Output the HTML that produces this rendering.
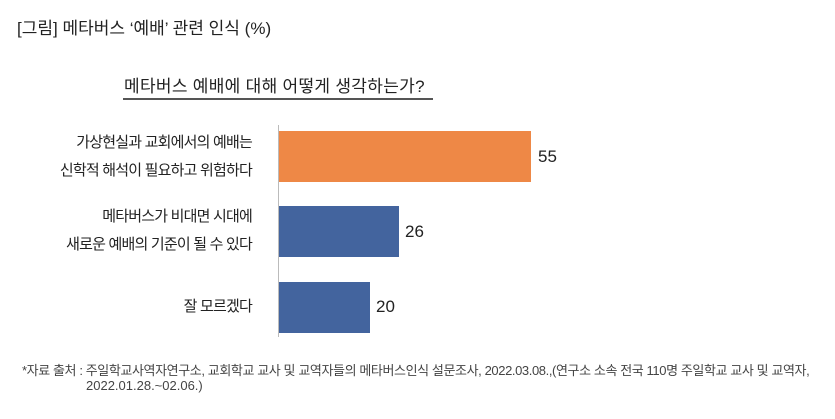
<!DOCTYPE html>
<html><head><meta charset="utf-8"><style>
body{margin:0;width:835px;height:419px;background:#fff;font-family:"Liberation Sans","Noto Sans CJK KR",sans-serif;color:#222;position:relative;overflow:hidden}
.a{position:absolute;white-space:nowrap}
.lbl{position:absolute;right:583px;text-align:right;font-size:15px;line-height:28px;letter-spacing:-0.8px}
.bar{position:absolute;left:279px}
.v{position:absolute;font-size:17px}
</style></head><body>
<div class="a" style="left:17px;top:14px;font-size:17px">[그림] 메타버스 ‘예배’ 관련 인식 (%)</div>
<div class="a" style="left:124px;top:72px;font-size:17px;letter-spacing:0.3px">메타버스 예배에 대해 어떻게 생각하는가?</div>
<div class="a" style="left:123px;top:98px;width:310px;height:2px;background:#555"></div>
<div class="a" style="left:278px;top:125px;width:1px;height:212px;background:#bbb"></div>
<div class="lbl" style="top:129px">가상현실과 교회에서의 예배는<br>신학적 해석이 필요하고 위험하다</div>
<div class="lbl" style="top:203px">메타버스가 비대면 시대에<br>새로운 예배의 기준이 될 수 있다</div>
<div class="lbl" style="top:293px">잘 모르겠다</div>
<div class="bar" style="top:131px;width:252px;height:51px;background:#ee8846"></div>
<div class="bar" style="top:206px;width:120px;height:51px;background:#43649e"></div>
<div class="bar" style="top:282px;width:91px;height:51px;background:#43649e"></div>
<div class="v" style="left:538px;top:147px">55</div>
<div class="v" style="left:405px;top:222px">26</div>
<div class="v" style="left:376px;top:297px">20</div>
<div class="a" style="left:22px;top:360px;font-size:13px;color:#444;letter-spacing:-0.4px">*자료 출처 : 주일학교사역자연구소, 교회학교 교사 및 교역자들의 메타버스인식 설문조사, 2022.03.08.,(연구소 소속 전국 110명 주일학교 교사 및 교역자,</div>
<div class="a" style="left:86px;top:378px;font-size:13px;color:#444">2022.01.28.~02.06.)</div>
</body></html>
